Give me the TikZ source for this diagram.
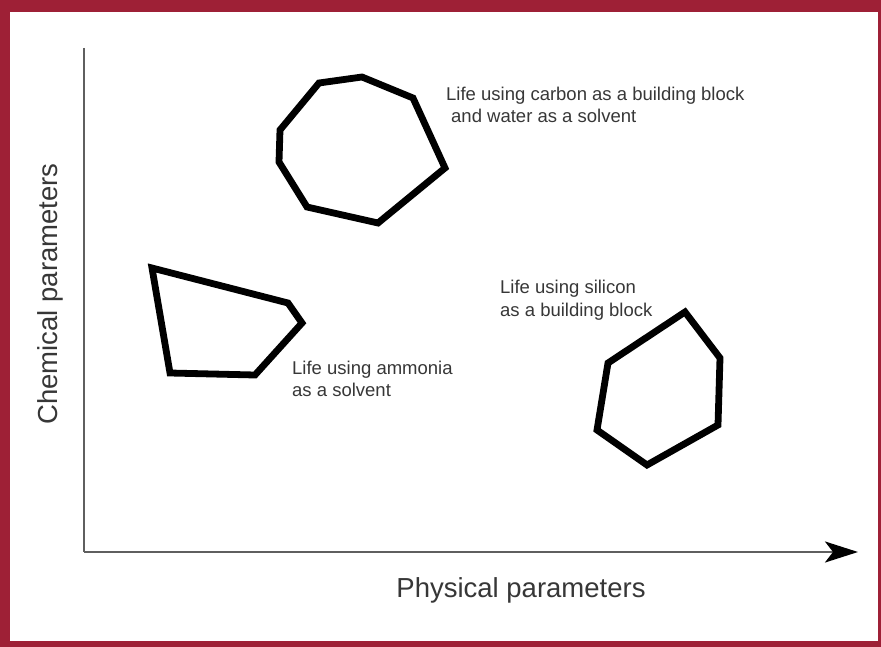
\documentclass[tikz,border=0pt]{standalone}
\usepackage{fontspec}
\setmainfont{Liberation Sans}
\usetikzlibrary{arrows.meta}
\definecolor{frame}{RGB}{158,32,54}
\definecolor{txt}{RGB}{55,55,55}
\definecolor{axisgray}{RGB}{95,95,95}
\begin{document}
\begin{tikzpicture}[x=1pt,y=-1pt,
  blob/.style={draw=black,line width=6.8pt,line join=miter},
  axisline/.style={draw=axisgray,line width=2.6pt},
  small/.style={font=\fontsize{18.5}{22}\selectfont,text=txt,inner sep=0pt,anchor=base west},
  big/.style={font=\fontsize{27.5}{32}\selectfont,text=txt,inner sep=0pt,anchor=base}]
\useasboundingbox (0,0) rectangle (881,647);
\fill[frame] (0,0) rectangle (881,647);
\fill[white] (10,12) rectangle (878,641);
% axes
\coordinate (top) at (84,48);
\coordinate (org) at (84,552);
\coordinate (end) at (858,552);
\draw[axisline] (top) -- (org);
\draw[axisline,-{Stealth[length=33pt,width=21pt,inset=8pt,black]}] (org) -- (end);
\node[big] (xl) at (521,597) {Physical parameters};
\node[big,rotate=90] (yl) at (57,294) {Chemical parameters};
% carbon polygon
\draw[blob] (319,83) -- (362,77) -- (413,98) -- (445,168) -- (378,223) -- (307,207) -- (279,162) -- (280,130) -- cycle;
% ammonia polygon
\draw[blob] (152,268) -- (288,303) -- (302,323) -- (255,375) -- (170,373) -- cycle;
% silicon polygon
\draw[blob] (685,312) -- (720,358) -- (718,425) -- (647,465) -- (597,430) -- (608,363) -- cycle;
% labels
\node[small] (c1) at (446,101) {Life using carbon as a building block};
\node[small] (c2) at (451,123) {and water as a solvent};
\node[small] (a1) at (292,374) {Life using ammonia};
\node[small] (a2) at (292,396) {as a solvent};
\node[small] (s1) at (500,294) {Life using silicon};
\node[small] (s2) at (500,316) {as a building block};
\end{tikzpicture}
\end{document}
